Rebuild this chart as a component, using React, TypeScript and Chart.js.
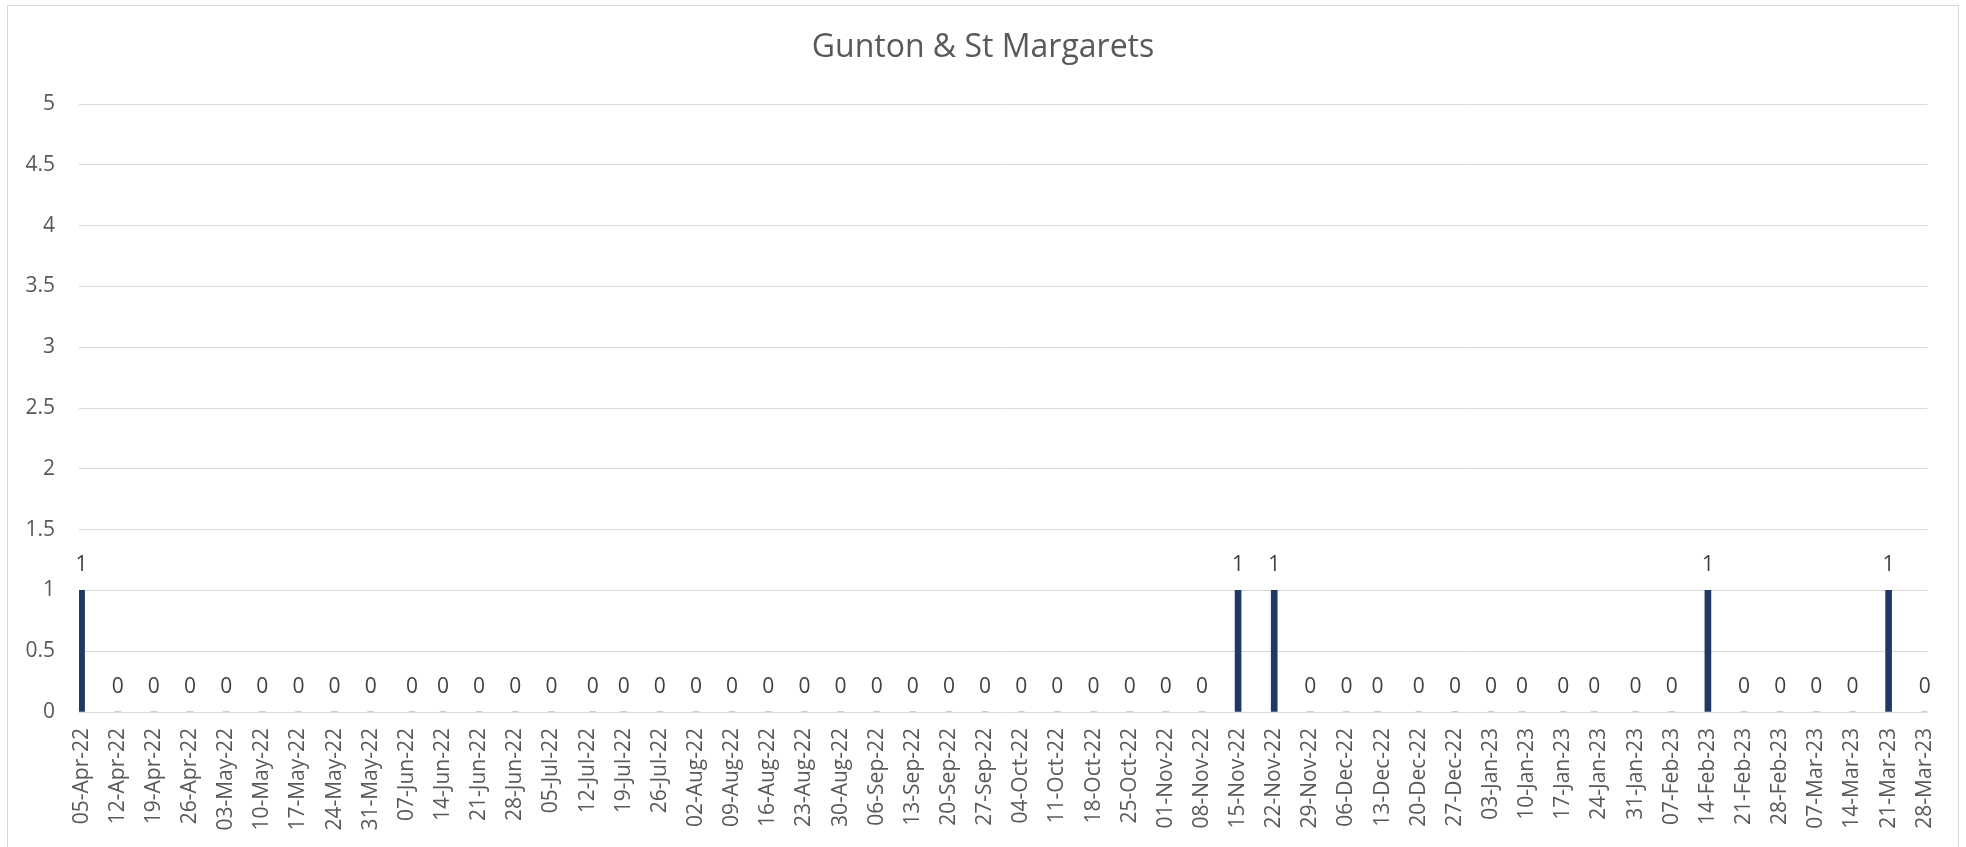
import React, { useEffect, useRef } from "react";
import { Chart, registerables } from "chart.js";

Chart.register(...registerables);

const TITLE = "Gunton & St Margarets";

const TICK_LABELS = [
  "05-Apr-22", "12-Apr-22", "19-Apr-22", "26-Apr-22", "03-May-22", "10-May-22", "17-May-22", "24-May-22",
  "31-May-22", "07-Jun-22", "14-Jun-22", "21-Jun-22", "28-Jun-22", "05-Jul-22", "12-Jul-22", "19-Jul-22",
  "26-Jul-22", "02-Aug-22", "09-Aug-22", "16-Aug-22", "23-Aug-22", "30-Aug-22", "06-Sep-22", "13-Sep-22",
  "20-Sep-22", "27-Sep-22", "04-Oct-22", "11-Oct-22", "18-Oct-22", "25-Oct-22", "01-Nov-22", "08-Nov-22",
  "15-Nov-22", "22-Nov-22", "29-Nov-22", "06-Dec-22", "13-Dec-22", "20-Dec-22", "27-Dec-22", "03-Jan-23",
  "10-Jan-23", "17-Jan-23", "24-Jan-23", "31-Jan-23", "07-Feb-23", "14-Feb-23", "21-Feb-23", "28-Feb-23",
  "07-Mar-23", "14-Mar-23", "21-Mar-23", "28-Mar-23",
];

const DATES = [
  "05-Apr-22", "12-Apr-22", "19-Apr-22", "26-Apr-22", "03-May-22", "10-May-22", "17-May-22", "24-May-22",
  "31-May-22", "08-Jun-22", "14-Jun-22", "21-Jun-22", "28-Jun-22", "05-Jul-22", "13-Jul-22", "19-Jul-22",
  "26-Jul-22", "02-Aug-22", "09-Aug-22", "16-Aug-22", "23-Aug-22", "30-Aug-22", "06-Sep-22", "13-Sep-22",
  "20-Sep-22", "27-Sep-22", "04-Oct-22", "11-Oct-22", "18-Oct-22", "25-Oct-22", "01-Nov-22", "08-Nov-22",
  "15-Nov-22", "22-Nov-22", "29-Nov-22", "06-Dec-22", "12-Dec-22", "20-Dec-22", "27-Dec-22", "03-Jan-23",
  "09-Jan-23", "17-Jan-23", "23-Jan-23", "31-Jan-23", "07-Feb-23", "14-Feb-23", "21-Feb-23", "28-Feb-23",
  "07-Mar-23", "14-Mar-23", "21-Mar-23", "28-Mar-23",
];

const VALUES = [
  1, 0, 0, 0, 0, 0, 0, 0,
  0, 0, 0, 0, 0, 0, 0, 0,
  0, 0, 0, 0, 0, 0, 0, 0,
  0, 0, 0, 0, 0, 0, 0, 0,
  1, 1, 0, 0, 0, 0, 0, 0,
  0, 0, 0, 0, 0, 1, 0, 0,
  0, 0, 1, 0,
];

const Y_TICKS = [0, 0.5, 1, 1.5, 2, 2.5, 3, 3.5, 4, 4.5, 5];

const MONTHS: Record<string, number> = {
  Jan: 0, Feb: 1, Mar: 2, Apr: 3, May: 4, Jun: 5, Jul: 6, Aug: 7, Sep: 8, Oct: 9, Nov: 10, Dec: 11,
};

function toDay(s: string): number {
  const [d, m, y] = s.split("-");
  const t = Date.UTC(2000 + Number(y), MONTHS[m], Number(d));
  const base = Date.UTC(2022, 3, 5);
  return Math.round((t - base) / 86400000);
}

const FONT = "'Open Sans', 'Liberation Sans', sans-serif";

const dataLabels = {
  id: "dataLabels",
  afterDatasetsDraw(chart: any) {
    const ctx = chart.ctx;
    const meta = chart.getDatasetMeta(0);
    const ds = chart.data.datasets[0];
    ctx.save();
    ctx.font = `21px ${FONT}`;
    ctx.fillStyle = "#404040";
    ctx.textAlign = "center";
    ctx.textBaseline = "middle";
    meta.data.forEach((el: any, i: number) => {
      const v = ds.data[i].y;
      ctx.fillText(String(v), el.x, el.y - 25);
    });
    ctx.restore();
  },
};

const chartTitle = {
  id: "chartTitle",
  afterDraw(chart: any) {
    const ctx = chart.ctx;
    ctx.save();
    ctx.font = `32px ${FONT}`;
    ctx.fillStyle = "#595959";
    ctx.textAlign = "center";
    ctx.textBaseline = "middle";
    ctx.fillText(TITLE, 983, 48);
    ctx.restore();
  },
};

export default function App() {
  const ref = useRef<HTMLCanvasElement | null>(null);

  useEffect(() => {
    if (!ref.current) return;
    const tickDays = TICK_LABELS.map(toDay);
    const points = DATES.map((d, i) => ({ x: toDay(d), y: VALUES[i] }));
    const chart = new Chart(ref.current, {
      type: "bar",
      data: {
        datasets: [
          {
            data: points as any,
            backgroundColor: "#203864",
            borderWidth: 0,
            barThickness: 6,
          },
        ],
      },
      plugins: [dataLabels, chartTitle],
      options: {
        animation: false,
        responsive: false,
        maintainAspectRatio: false,
        layout: { padding: { left: 0, right: 36, top: 104, bottom: 0 } },
        plugins: {
          legend: { display: false },
          tooltip: { enabled: false },
          title: { display: false },
        },
        scales: {
          x: {
            type: "linear",
            offset: false,
            min: tickDays[0] - 0.5,
            max: tickDays[tickDays.length - 1] + 0.5,
            grid: { display: false, drawTicks: false, offset: false },
            border: { display: false },
            afterBuildTicks: (scale: any) => {
              scale.ticks = tickDays.map((v) => ({ value: v }));
            },
            afterFit: (scale: any) => {
              scale.height = 135;
            },
            ticks: {
              autoSkip: false,
              minRotation: 90,
              maxRotation: 90,
              padding: 16,
              color: "#595959",
              font: { family: FONT, size: 21 },
              callback: (value: any) => {
                const idx = tickDays.indexOf(Number(value));
                return idx >= 0 ? TICK_LABELS[idx] : "";
              },
            },
          },
          y: {
            min: 0,
            max: 5,
            grid: { color: "#d9d9d9", lineWidth: 1, drawTicks: false },
            border: { display: false },
            afterBuildTicks: (scale: any) => {
              scale.ticks = Y_TICKS.map((v) => ({ value: v }));
            },
            afterFit: (scale: any) => {
              scale.width = 79;
            },
            ticks: {
              padding: 24,
              color: "#595959",
              font: { family: FONT, size: 21 },
              callback: (value: any) => String(value),
            },
          },
        },
      },
    });
    return () => chart.destroy();
  }, []);

  return (
    <div style={{ position: "fixed", left: 0, top: 0, width: 1966, height: 847, background: "#fff", overflow: "hidden" }}>
      <div
        style={{
          position: "absolute",
          left: 7,
          top: 5,
          width: 1952,
          height: 900,
          border: "1px solid #d9d9d9",
          boxSizing: "border-box",
        }}
      />
      <canvas ref={ref} width={1966} height={847} style={{ position: "absolute", left: 0, top: 0 }} />
    </div>
  );
}
